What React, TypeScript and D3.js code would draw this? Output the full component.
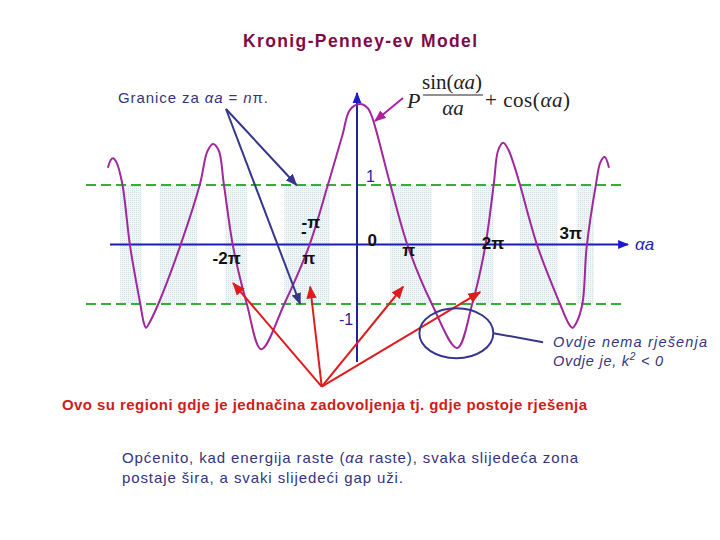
import React, { useEffect, useRef } from "react";
import * as d3 from "d3";

// curve: u = alpha*a / pi, f = P sin(aa)/aa + cos(aa)
const curveU = [-3.46, -3.42, -3.39, -3.34, -3.26, -3.15, -3.01, -2.96, -2.93, -2.89, -2.76, -2.46, -2.18, -2.08, -2.0, -1.92, -1.85, -1.72, -1.53, -1.33, -1.01, -0.67, -0.4, -0.2, -0.1, 0.04, 0.15, 0.21, 0.46, 0.71, 1.04, 1.39, 1.6, 1.78, 1.9, 1.96, 2.03, 2.1, 2.19, 2.26, 2.51, 2.82, 2.94, 2.99, 3.04, 3.13, 3.19, 3.32, 3.38, 3.44, 3.5];
const curveF = [1.29, 1.42, 1.45, 1.38, 1.02, -0.04, -1.0, -1.32, -1.4, -1.33, -1.0, -0.04, 1.02, 1.56, 1.69, 1.58, 1.02, -0.04, -1.0, -1.76, -1.0, -0.04, 1.02, 1.85, 2.26, 2.36, 2.29, 2.14, 1.02, -0.04, -1.0, -1.74, -1.0, -0.04, 1.02, 1.58, 1.71, 1.6, 1.3, 1.02, -0.04, -1.0, -1.33, -1.4, -1.33, -1.0, -0.04, 1.02, 1.38, 1.47, 1.29];

// allowed bands (start, end) in u
const bandStart = [-3.29, -2.74, -1.83, -1.01, 0.46, 1.6, 2.26, 3.05];
const bandEnd = [-2.99, -2.22, -1.53, -0.38, 1.04, 1.9, 2.79, 3.29];

// axis labels
const tickLabels = ["-2π", "-π", "-", "π", "0", "π", "2π", "3π"];
const tickU = [-1.81, -0.64, -0.74, -0.67, 0.21, 0.72, 1.89, 2.97];
const tickF = [-0.22, 0.37, 0.22, -0.22, 0.07, -0.09, 0.03, 0.2];

// red arrows: one source, four targets
const redSrc = [-0.49, -2.39];
const redU = [-1.72, -0.65, 0.64, 1.71];
const redF = [-0.65, -0.71, -0.71, -0.8];

export default function App() {
  const ref = useRef<SVGSVGElement>(null);

  useEffect(() => {
    const svg = d3.select(ref.current);
    svg.selectAll("*").remove();

    const x = d3.scaleLinear().domain([0, 1]).range([357, 429]);
    const y = d3.scaleLinear().domain([-1, 1]).range([304, 185]);

    const sans = "'Liberation Sans', Arial, sans-serif";
    const serif = "'Liberation Serif', 'Times New Roman', serif";
    const navy = "#34347e";

    const defs = svg.append("defs");
    const mk = (id: string, color: string, size: number) => {
      defs.append("marker")
        .attr("id", id)
        .attr("viewBox", "0 0 10 10")
        .attr("refX", 9).attr("refY", 5)
        .attr("markerWidth", size).attr("markerHeight", size)
        .attr("markerUnits", "userSpaceOnUse")
        .attr("orient", "auto")
        .append("path").attr("d", "M0,1 L10,5 L0,9 Z").attr("fill", color);
    };
    mk("redHead", "#e01b1b", 13);
    mk("navyHead", "#36368a", 12);
    mk("magHead", "#b0209e", 12);
    mk("blueHead", "#1a1ad0", 11);

    const pat = defs.append("pattern").attr("id", "dots")
      .attr("width", 2).attr("height", 2).attr("patternUnits", "userSpaceOnUse");
    pat.append("rect").attr("width", 2).attr("height", 2).attr("fill", "#f1f6f7");
    pat.append("rect").attr("width", 1).attr("height", 1).attr("fill", "#cfe0e5");

    // bands
    svg.append("g").selectAll("rect")
      .data(bandStart.map((s, i) => [s, bandEnd[i]]))
      .join("rect")
      .attr("x", d => x(d[0]))
      .attr("width", d => x(d[1]) - x(d[0]))
      .attr("y", y(1))
      .attr("height", y(-1) - y(1))
      .attr("fill", "url(#dots)");

    // dashed lines at +1 / -1
    [1, -1].forEach(v => {
      svg.append("line")
        .attr("x1", 86).attr("x2", 624)
        .attr("y1", y(v)).attr("y2", y(v))
        .attr("stroke", "#35b035").attr("stroke-width", 2)
        .attr("stroke-dasharray", "10,5");
    });

    // axes
    svg.append("line")
      .attr("x1", 110).attr("x2", 628)
      .attr("y1", y(0)).attr("y2", y(0))
      .attr("stroke", "#1a1ab8").attr("stroke-width", 2)
      .attr("marker-end", "url(#blueHead)");
    svg.append("line")
      .attr("x1", x(0)).attr("x2", x(0))
      .attr("y1", 362).attr("y2", 93)
      .attr("stroke", "#22229a").attr("stroke-width", 2)
      .attr("marker-end", "url(#blueHead)");

    // the curve
    const line = d3.line<number>()
      .x(d => x(d))
      .y((d, i) => y(curveF[i]))
      .curve(d3.curveCatmullRom.alpha(0.5));
    svg.append("path")
      .attr("d", line(curveU))
      .attr("fill", "none")
      .attr("stroke", "#a0279c")
      .attr("stroke-width", 2);

    // axis labels
    svg.append("g").selectAll("text")
      .data(tickLabels)
      .join("text")
      .attr("x", (d, i) => x(tickU[i]))
      .attr("y", (d, i) => y(tickF[i]) + 6)
      .attr("text-anchor", "middle")
      .attr("font-family", sans)
      .attr("font-weight", "bold")
      .attr("font-size", 17)
      .attr("fill", "#111")
      .text(d => d);

    svg.append("text").attr("x", x(0) + 9).attr("y", y(1) - 3)
      .attr("font-family", sans).attr("font-size", 16).attr("fill", "#2424a0").text("1");
    svg.append("text").attr("x", x(0) - 18).attr("y", y(-1) + 21)
      .attr("font-family", sans).attr("font-size", 16).attr("fill", "#2424a0").text("-1");
    svg.append("text").attr("x", 635).attr("y", y(0) + 5)
      .attr("font-family", sans).attr("font-style", "italic").attr("font-size", 17)
      .attr("fill", "#2424b0").text("αa");

    // title
    svg.append("text").attr("x", 243).attr("y", 47)
      .attr("textLength", 234).attr("lengthAdjust", "spacing")
      .attr("font-family", sans).attr("font-weight", "bold").attr("font-size", 17.5)
      .attr("fill", "#7e0c44").text("Kronig-Penney-ev Model");

    // "Granice za aa = n pi."
    const gr = svg.append("text").attr("x", 118).attr("y", 103)
      .attr("textLength", 150).attr("lengthAdjust", "spacing")
      .attr("font-family", sans).attr("font-size", 15).attr("fill", navy);
    gr.append("tspan").text("Granice za  ");
    gr.append("tspan").attr("font-style", "italic").text("αa");
    gr.append("tspan").text(" = ");
    gr.append("tspan").attr("font-style", "italic").text("n");
    gr.append("tspan").text("π.");

    // navy arrows from the boundary label
    [[x(-0.84), y(1)], [x(-0.79), y(-1)]].forEach(([tx, ty]) => {
      svg.append("line")
        .attr("x1", 226).attr("y1", 109).attr("x2", tx).attr("y2", ty)
        .attr("stroke", "#36368a").attr("stroke-width", 2)
        .attr("marker-end", "url(#navyHead)");
    });

    // formula
    const fm = svg.append("g").attr("font-family", serif).attr("fill", "#222");
    fm.append("text").attr("x", 407).attr("y", 108).attr("font-size", 22)
      .attr("font-style", "italic").text("P");
    const num = fm.append("text").attr("x", 452).attr("y", 89).attr("font-size", 21)
      .attr("text-anchor", "middle");
    num.append("tspan").text("sin(");
    num.append("tspan").attr("font-style", "italic").text("αa");
    num.append("tspan").text(")");
    fm.append("line").attr("x1", 423).attr("x2", 483).attr("y1", 95).attr("y2", 95)
      .attr("stroke", "#222").attr("stroke-width", 1);
    fm.append("text").attr("x", 453).attr("y", 115).attr("font-size", 21)
      .attr("font-style", "italic").attr("text-anchor", "middle").text("αa");
    const cs = fm.append("text").attr("x", 485).attr("y", 107).attr("font-size", 21)
      .attr("textLength", 85).attr("lengthAdjust", "spacing");
    cs.append("tspan").text("+ cos(");
    cs.append("tspan").attr("font-style", "italic").text("αa");
    cs.append("tspan").text(")");

    svg.append("line")
      .attr("x1", 403).attr("y1", 98).attr("x2", 375).attr("y2", 121)
      .attr("stroke", "#b0209e").attr("stroke-width", 2)
      .attr("marker-end", "url(#magHead)");

    // red arrows
    redU.forEach((u, i) => {
      svg.append("line")
        .attr("x1", x(redSrc[0])).attr("y1", y(redSrc[1]))
        .attr("x2", x(u)).attr("y2", y(redF[i]))
        .attr("stroke", "#e01b1b").attr("stroke-width", 2)
        .attr("marker-end", "url(#redHead)");
    });

    // ellipse around the gap
    svg.append("ellipse")
      .attr("cx", x(1.38)).attr("cy", y(-1.49))
      .attr("rx", 37).attr("ry", 25)
      .attr("fill", "none").attr("stroke", "#36368a").attr("stroke-width", 2);
    svg.append("line")
      .attr("x1", x(1.38) + 37).attr("y1", y(-1.49))
      .attr("x2", 543).attr("y2", y(-1.49) + 9)
      .attr("stroke", "#36368a").attr("stroke-width", 2);

    const ov = svg.append("g").attr("font-family", sans).attr("font-style", "italic")
      .attr("font-size", 14.5).attr("fill", navy);
    ov.append("text").attr("x", 553).attr("y", 347)
      .attr("textLength", 154).attr("lengthAdjust", "spacing")
      .text("Ovdje nema rješenja");
    const k = ov.append("text").attr("x", 553).attr("y", 366)
      .attr("textLength", 110).attr("lengthAdjust", "spacing");
    k.append("tspan").text("Ovdje je, k");
    k.append("tspan").attr("font-size", 10).attr("dy", -6).text("2");
    k.append("tspan").attr("dy", 6).text(" < 0");

    svg.append("text").attr("x", 62).attr("y", 410)
      .attr("textLength", 525).attr("lengthAdjust", "spacing")
      .attr("font-family", sans).attr("font-weight", "bold").attr("font-size", 15)
      .attr("fill", "#d21a1a")
      .text("Ovo su regioni gdje je jednačina zadovoljenja tj. gdje postoje rješenja");

    const op = svg.append("text").attr("x", 122).attr("y", 463)
      .attr("textLength", 456).attr("lengthAdjust", "spacing")
      .attr("font-family", sans).attr("font-size", 15).attr("fill", navy);
    op.append("tspan").text("Općenito, kad energija raste (");
    op.append("tspan").attr("font-style", "italic").text("αa");
    op.append("tspan").text(" raste), svaka slijedeća zona");
    svg.append("text").attr("x", 122).attr("y", 483)
      .attr("textLength", 281).attr("lengthAdjust", "spacing")
      .attr("font-family", sans).attr("font-size", 15).attr("fill", navy)
      .text("postaje šira, a svaki slijedeći gap uži.");
  }, []);

  return (
    <svg
      ref={ref}
      width={720}
      height={540}
      style={{ position: "absolute", left: 0, top: 0, background: "#fff" }}
    />
  );
}
